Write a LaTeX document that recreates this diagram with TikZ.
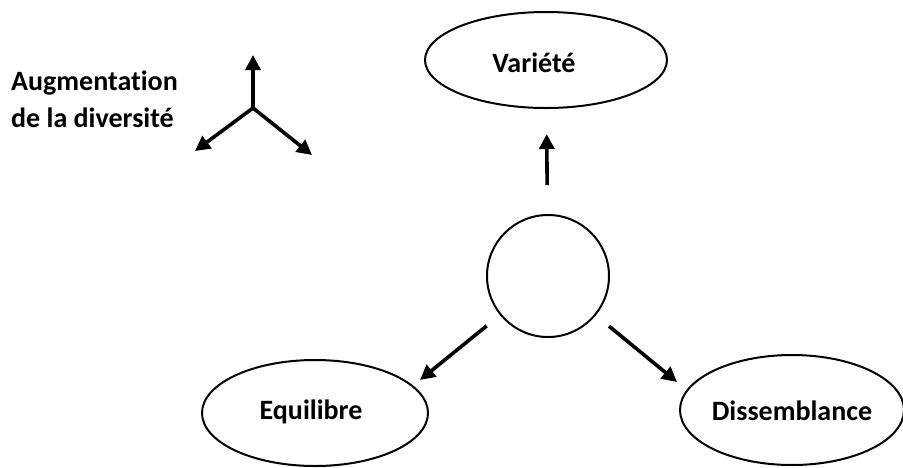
\documentclass[tikz,border=0pt]{standalone}
\usepackage{fontspec}
\setmainfont[RawFeature=-liga]{Carlito}
\usetikzlibrary{shapes.geometric,arrows.meta}
\begin{document}
\begin{tikzpicture}[x=1pt,y=-1pt,
  ell/.style={draw, line width=2pt, ellipse, inner sep=0pt},
  rnd/.style={draw, line width=2pt, circle, inner sep=0pt, minimum size=122pt},
  lab/.style={font=\bfseries\fontsize{28}{34}\selectfont, anchor=base, inner sep=0pt},
  arr/.style={line width=3.6pt, -{Triangle[length=15pt,width=15pt]}}
]
\useasboundingbox (0,0) rectangle (903,467);
\fill[white] (0,0) rectangle (903,467);
% legend
\node[lab, anchor=base west] (t1) at (11,90) {Augmentation};
\node[lab, anchor=base west] (t2) at (11,127) {de la diversité};
\coordinate (yc) at (253,108);
\coordinate (yu) at (253,55);
\coordinate (yl) at (195,151);
\coordinate (yr) at (312,155);
\draw[arr] (yc) -- (yu);
\draw[arr] (yc) -- (yl);
\draw[arr] (yc) -- (yr);
% main nodes
\node[ell, minimum width=242pt, minimum height=96pt] (var) at (546,60) {};
\node[lab] (tvar) at (534,72) {Variété};
\node[rnd] (c) at (548,276) {};
\node[ell, minimum width=226pt, minimum height=106pt] (equ) at (315,413) {};
\node[lab] (tequ) at (311,419) {Equilibre};
\node[ell, minimum width=224pt, minimum height=110pt] (dis) at (792,410) {};
\node[lab] (tdis) at (792,420) {Dissemblance};
% connectors
\coordinate (eqin) at (420,380);
\coordinate (disin) at (677,382);
\draw[arr, shorten <=29pt, shorten >=25pt] (c) -- (var);
\draw[arr, shorten <=17pt] (c) -- (eqin);
\draw[arr, shorten <=17pt] (c) -- (disin);
\end{tikzpicture}
\end{document}
